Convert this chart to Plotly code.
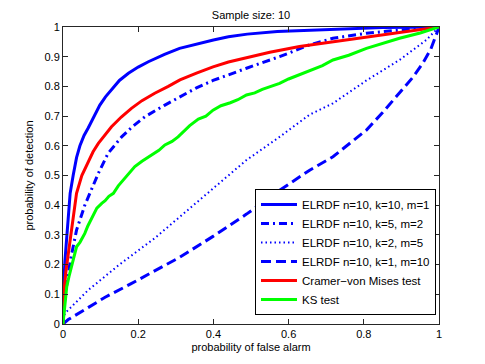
import plotly.graph_objects as go

# ELRDF n=10, k=10, m=1 (solid blue)
x_k10 = [0, 0.001, 0.005, 0.012, 0.019, 0.027, 0.036, 0.045, 0.056, 0.067, 0.082, 0.098, 0.113, 0.129, 0.15, 0.174, 0.2, 0.227, 0.27, 0.31, 0.355, 0.40, 0.44, 0.49, 0.57, 0.66, 0.75, 0.85, 1.0]
y_k10 = [0, 0.10, 0.21, 0.34, 0.44, 0.50, 0.56, 0.60, 0.635, 0.66, 0.70, 0.737, 0.765, 0.79, 0.82, 0.844, 0.865, 0.883, 0.908, 0.928, 0.943, 0.956, 0.967, 0.976, 0.985, 0.99, 0.995, 0.998, 1.0]

# ELRDF n=10, k=5, m=2 (dash-dot blue)
x_k5 = [0, 0.005, 0.019, 0.036, 0.058, 0.075, 0.095, 0.12, 0.156, 0.185, 0.218, 0.271, 0.311, 0.355, 0.399, 0.44, 0.488, 0.53, 0.576, 0.62, 0.656, 0.718, 0.807, 0.9, 1.0]
y_k5 = [0, 0.09, 0.21, 0.316, 0.40, 0.45, 0.51, 0.575, 0.63, 0.665, 0.698, 0.737, 0.765, 0.795, 0.82, 0.84, 0.861, 0.88, 0.90, 0.922, 0.94, 0.962, 0.979, 0.99, 1.0]

# ELRDF n=10, k=2, m=5 (dotted blue)
x_k2 = [0, 0.005, 0.067, 0.15, 0.244, 0.311, 0.399, 0.488, 0.576, 0.656, 0.718, 0.807, 0.895, 0.966, 1.0]
y_k2 = [0, 0.036, 0.114, 0.20, 0.289, 0.361, 0.455, 0.552, 0.63, 0.705, 0.743, 0.82, 0.889, 0.956, 1.0]

# ELRDF n=10, k=1, m=10 (dashed blue)
x_k1 = [0, 0.014, 0.06, 0.112, 0.18, 0.244, 0.311, 0.399, 0.488, 0.576, 0.656, 0.718, 0.807, 0.85, 0.895, 0.93, 0.957, 0.978, 0.993, 1.0]
y_k1 = [0, 0.015, 0.05, 0.09, 0.135, 0.178, 0.225, 0.295, 0.37, 0.45, 0.518, 0.563, 0.653, 0.712, 0.777, 0.83, 0.878, 0.925, 0.975, 1.0]

# Cramer-von Mises test (red)
x_cvm = [0, 0.002, 0.008, 0.014, 0.025, 0.036, 0.05, 0.067, 0.08, 0.094, 0.11, 0.129, 0.155, 0.182, 0.21, 0.244, 0.28, 0.311, 0.355, 0.399, 0.44, 0.488, 0.55, 0.629, 0.72, 0.807, 0.9, 1.0]
y_cvm = [0, 0.10, 0.18, 0.238, 0.35, 0.44, 0.50, 0.546, 0.58, 0.608, 0.635, 0.664, 0.697, 0.726, 0.752, 0.777, 0.80, 0.822, 0.845, 0.866, 0.882, 0.897, 0.915, 0.934, 0.95, 0.965, 0.982, 1.0]

# KS test (green)
x_ks = [0, 0.004, 0.01, 0.016, 0.023, 0.03, 0.036, 0.045, 0.052, 0.058, 0.066, 0.074, 0.08, 0.09, 0.103, 0.112, 0.122, 0.134, 0.147, 0.16, 0.175, 0.191, 0.21, 0.236, 0.255, 0.271, 0.29, 0.306, 0.32, 0.337, 0.36, 0.38, 0.399, 0.42, 0.445, 0.465, 0.488, 0.51, 0.53, 0.555, 0.576, 0.6, 0.63, 0.656, 0.69, 0.718, 0.76, 0.807, 0.85, 0.895, 0.95, 1.0]
y_ks = [0, 0.06, 0.126, 0.16, 0.193, 0.225, 0.26, 0.275, 0.29, 0.305, 0.33, 0.35, 0.361, 0.39, 0.406, 0.415, 0.43, 0.44, 0.465, 0.485, 0.505, 0.53, 0.548, 0.569, 0.585, 0.603, 0.615, 0.63, 0.648, 0.668, 0.69, 0.70, 0.72, 0.735, 0.745, 0.755, 0.771, 0.778, 0.79, 0.80, 0.81, 0.825, 0.84, 0.855, 0.87, 0.889, 0.905, 0.928, 0.945, 0.962, 0.98, 1.0]

x_ticks = [0, 0.2, 0.4, 0.6, 0.8, 1]
x_ticklabels = ["0", "0.2", "0.4", "0.6", "0.8", "1"]
y_ticks = [0, 0.1, 0.2, 0.3, 0.4, 0.5, 0.6, 0.7, 0.8, 0.9, 1]
y_ticklabels = ["0", "0.1", "0.2", "0.3", "0.4", "0.5", "0.6", "0.7", "0.8", "0.9", "1"]

series = [
    ("ELRDF n=10, k=10, m=1", x_k10, y_k10, "#0000ff", "solid", 3),
    ("ELRDF n=10, k=5, m=2", x_k5, y_k5, "#0000ff", "8px,4px,2px,4px", 3),
    ("ELRDF n=10, k=2, m=5", x_k2, y_k2, "#0000ff", "1.5px,3px", 2),
    ("ELRDF n=10, k=1, m=10", x_k1, y_k1, "#0000ff", "10px,5px", 3),
    ("Cramer\u2212von Mises test", x_cvm, y_cvm, "#ff0000", "solid", 3),
    ("KS test", x_ks, y_ks, "#00ff00", "solid", 3),
]

fig = go.Figure()
for name, xs, ys, color, dash, w in series:
    fig.add_trace(go.Scatter(x=xs, y=ys, mode="lines", name=name,
                             line=dict(color=color, dash=dash, width=w)))

axis_common = dict(showgrid=False, zeroline=False, showline=True, linecolor="#262626",
                   linewidth=1, mirror="ticks", ticks="inside", ticklen=5,
                   tickcolor="#262626", tickfont=dict(size=11, color="black"))

fig.update_layout(
    width=485, height=364,
    margin=dict(l=55, r=54, t=19, b=48),
    paper_bgcolor="white", plot_bgcolor="white",
    font=dict(family="Liberation Sans, Arial, sans-serif", size=11, color="black"),
    title=dict(text="Sample size: 10", x=0.5, xanchor="center", y=0.98, yanchor="middle",
               font=dict(size=11), xref="paper"),
    xaxis=dict(range=[0, 1], tickvals=x_ticks, ticktext=x_ticklabels,
               title=dict(text="probability of false alarm", standoff=4, font=dict(size=11)),
               **axis_common),
    yaxis=dict(range=[0, 1], tickvals=y_ticks, ticktext=y_ticklabels,
               title=dict(text="probability of detection", standoff=8, font=dict(size=11)),
               **axis_common),
    legend=dict(x=0.992, y=0.03, xanchor="right", yanchor="bottom",
                bgcolor="white", bordercolor="black", borderwidth=1,
                font=dict(size=11.5), itemwidth=36, tracegroupgap=0),
    showlegend=True,
)

fig.write_html("out.html")
